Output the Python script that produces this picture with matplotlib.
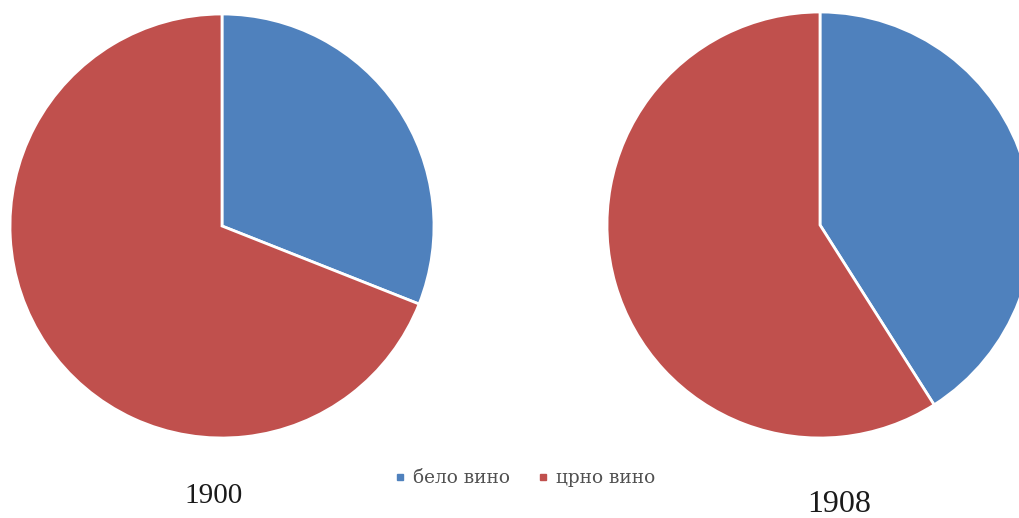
import matplotlib
matplotlib.use("Agg")
import matplotlib.pyplot as plt
from matplotlib.lines import Line2D

categories = ["бело вино", "црно вино"]
years = ["1900", "1908"]
values_1900 = [31, 69]
values_1908 = [41, 59]
colors = ["#4F81BD", "#C0504D"]

W, H = 1020, 518
fig = plt.figure(figsize=(W / 100, H / 100), dpi=100)
fig.patch.set_facecolor("white")

def add_pie(cx, cy, r, vals):
    ax = fig.add_axes([(cx - r) / W, (H - cy - r) / H, 2 * r / W, 2 * r / H])
    ax.pie(vals, colors=colors, startangle=90, counterclock=False, radius=1,
           wedgeprops=dict(edgecolor="white", linewidth=2))
    ax.set_xlim(-1, 1)
    ax.set_ylim(-1, 1)
    ax.set_aspect("auto")
    ax.axis("off")
    return ax

add_pie(222, 226, 212, values_1900)
add_pie(820, 225, 213, values_1908)

fig.text(214 / W, 1 - 496 / H, years[0], ha="center", va="center",
         fontsize=21, family="Liberation Serif", color="#1a1a1a")
fig.text(839 / W, 1 - 505 / H, years[1], ha="center", va="center",
         fontsize=23, family="Liberation Serif", color="#1a1a1a")

handles = [Line2D([0], [0], marker="s", linestyle="none", markersize=4.5,
                  markerfacecolor=c, markeredgecolor=c) for c in colors]
leg = fig.legend(handles, categories, loc="center", bbox_to_anchor=(525 / W, 1 - 478 / H),
                 ncol=2, frameon=False, handlelength=0.6, handletextpad=0.4,
                 columnspacing=1.5, borderpad=0, borderaxespad=0,
                 prop={"family": "DejaVu Serif", "size": 13.3})
for t in leg.get_texts():
    t.set_color("#505050")

fig.savefig("out.png", dpi=100, facecolor="white")
